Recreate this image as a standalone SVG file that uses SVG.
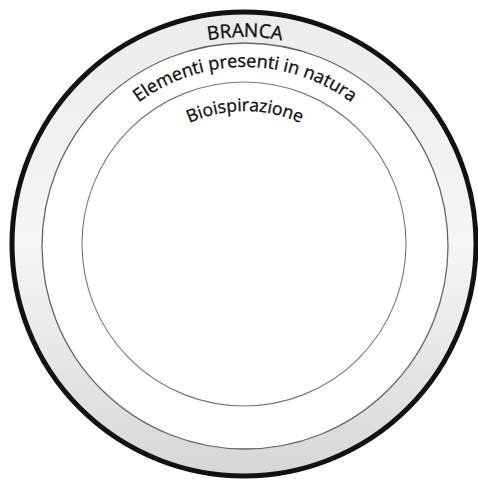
<svg xmlns="http://www.w3.org/2000/svg" width="478" height="482" viewBox="0 0 478 482">
  <style>
    .lbl { font-family: "Open Sans", "Liberation Sans", sans-serif; fill: #111111; stroke: #111111; stroke-width: 0.35; }
    .ring { fill: none; }
  </style>
  <defs>
    <linearGradient id="band" x1="0" y1="0" x2="0" y2="1">
      <stop offset="0" stop-color="#ececec"/>
      <stop offset="0.5" stop-color="#f6f6f6"/>
      <stop offset="1" stop-color="#d6d6d6"/>
    </linearGradient>
    <path id="arcBranca" d="M38,244 A207,207 0 0 1 452,244"/>
    <path id="arcElem" d="M68,244 A177,177 0 0 1 422,244"/>
    <path id="arcBio" d="M111,245 A134,134 0 0 1 379,245"/>
  </defs>
  <rect width="478" height="482" fill="#ffffff"/>
  <g id="outer">
    <circle cx="244" cy="244" r="232" fill="url(#band)" stroke="#111111" stroke-width="5"/>
    <text class="lbl" font-size="19"><textPath href="#arcBranca" startOffset="50%" text-anchor="middle">BRANCA</textPath></text>
  </g>
  <g id="middle">
    <circle cx="245" cy="246" r="203" fill="#ffffff" stroke="#666666" stroke-width="1.3"/>
    <text class="lbl" font-size="18"><textPath href="#arcElem" startOffset="50%" text-anchor="middle">Elementi presenti in natura</textPath></text>
  </g>
  <g id="inner">
    <circle cx="244" cy="244" r="162" class="ring" stroke="#777777" stroke-width="1.1"/>
    <text class="lbl" font-size="17.5"><textPath href="#arcBio" startOffset="50%" text-anchor="middle">Bioispirazione</textPath></text>
  </g>
  <g id="connectors"/>
</svg>
